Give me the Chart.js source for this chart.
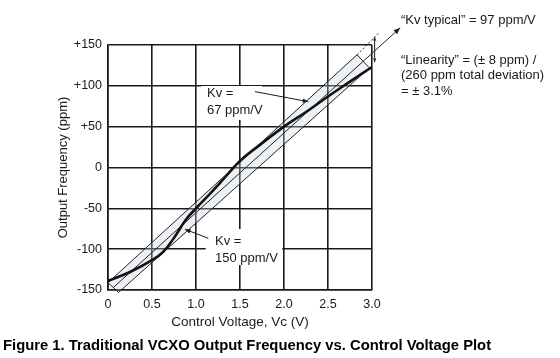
<!DOCTYPE html>
<html><head><meta charset="utf-8">
<script src="https://cdn.jsdelivr.net/npm/chart.js@4.4.1/dist/chart.umd.min.js"></script>
<style>html,body{margin:0;padding:0;background:#fff}#wrap{width:560px;height:358px}</style>
</head><body><div id="wrap"><canvas id="c" width="560" height="358"></canvas></div>
<script>
// ---- data ----
const controlVoltage = [0, 0.25, 0.5, 0.63, 0.77, 0.88, 1.0, 1.125, 1.28, 1.5, 1.73, 2.0, 2.25, 2.5, 2.72, 3.0];
const outputFreq     = [-139, -128, -113.5, -103, -83, -64.5, -50, -36, -18, 8, 28, 50, 68, 87, 103, 123];
const bandVoltage = [0, 2.83, 2.97, 0.12, 0];
const bandFreq    = [-141, 138, 122, -153, -141];
const typicalVoltage = [0.06, 3.32];
const typicalFreq    = [-147, 171];
const extVoltage = [2.83, 3.07];
const extFreq    = [138, 164];
const xTickValues = [0, 0.5, 1, 1.5, 2, 2.5, 3];
const xTickLabels = ['0', '0.5', '1.0', '1.5', '2.0', '2.5', '3.0'];
const yTickValues = [-150, -100, -50, 0, 50, 100, 150];
const yTickLabels = ['-150', '-100', '-50', '0', '+50', '+100', '+150'];

const FONT = "'Liberation Sans', Arial, sans-serif";
const INK = '#1a1a1a';

const notes = [
  {lines: ['Kv =', '67 ppm/V'], x: 1.125, ys: [90.8, 70.4], box: [1.057, 1.75, 99.8, 58.2],
   from: [1.67, 92.9], to: [2.276, 80.6]},
  {lines: ['Kv =', '150 ppm/V'], x: 1.216, ys: [-90.9, -111.2], box: [1.11, 1.98, -75.3, -119.4],
   from: [1.14, -86.7], to: [0.875, -75.7]}
];
const dimension = {x: 3.03, y1: 129, y2: 160};
const sideText = [
  {text: '\u201CKv typical\u201D = 97 ppm/V', x: 401, y: 20},
  {text: '\u201CLinearity\u201D = (\u00B1 8 ppm) /', x: 401, y: 60},
  {text: '(260 ppm total deviation)', x: 401, y: 75.5},
  {text: '= \u00B1 3.1%', x: 401, y: 91}
];
const figureTitle = {text: 'Figure 1. Traditional VCXO Output Frequency vs. Control Voltage Plot', x: 3, y: 345.5};

function zip(xs, ys) { return xs.map((v, i) => ({x: v, y: ys[i]})); }

function arrowHead(ctx, x1, y1, x2, y2, size) {
  const a = Math.atan2(y2 - y1, x2 - x1);
  ctx.beginPath();
  ctx.moveTo(x2, y2);
  ctx.lineTo(x2 - size * Math.cos(a - 0.38), y2 - size * Math.sin(a - 0.38));
  ctx.lineTo(x2 - size * Math.cos(a + 0.38), y2 - size * Math.sin(a + 0.38));
  ctx.closePath();
  ctx.fill();
}

const annot = {
  id: 'annot',
  beforeDatasetsDraw(chart) {
    const {ctx, scales: {x, y}} = chart;
    ctx.save();
    ctx.fillStyle = '#fff';
    notes.forEach(n => {
      const l = x.getPixelForValue(n.box[0]), r = x.getPixelForValue(n.box[1]);
      const t = y.getPixelForValue(n.box[2]), b = y.getPixelForValue(n.box[3]);
      ctx.fillRect(l, t, r - l, b - t);
    });
    ctx.restore();
  },
  afterDatasetsDraw(chart) {
    const {ctx, scales: {x, y}} = chart;
    ctx.save();
    ctx.fillStyle = INK; ctx.strokeStyle = INK;
    ctx.font = '13px ' + FONT;
    ctx.textBaseline = 'middle'; ctx.textAlign = 'left';
    notes.forEach(n => {
      n.lines.forEach((s, i) => ctx.fillText(s, x.getPixelForValue(n.x), y.getPixelForValue(n.ys[i])));
      const x1 = x.getPixelForValue(n.from[0]), y1 = y.getPixelForValue(n.from[1]);
      const x2 = x.getPixelForValue(n.to[0]), y2 = y.getPixelForValue(n.to[1]);
      ctx.lineWidth = 1;
      ctx.beginPath(); ctx.moveTo(x1, y1); ctx.lineTo(x2, y2); ctx.stroke();
      arrowHead(ctx, x1, y1, x2, y2, 6);
    });
    const pts = chart.getDatasetMeta(2).data;
    if (pts.length > 1) {
      const p1 = pts[pts.length - 2], p2 = pts[pts.length - 1];
      arrowHead(ctx, p1.x, p1.y, p2.x, p2.y, 7);
    }
    const dx = x.getPixelForValue(dimension.x);
    const dy1 = y.getPixelForValue(dimension.y1), dy2 = y.getPixelForValue(dimension.y2);
    ctx.lineWidth = 1;
    ctx.beginPath(); ctx.moveTo(dx, dy1); ctx.lineTo(dx, dy2); ctx.stroke();
    arrowHead(ctx, dx, dy2 + 10, dx, dy2, 4);
    arrowHead(ctx, dx, dy1 - 10, dx, dy1, 4);
    sideText.forEach(s => ctx.fillText(s.text, s.x, s.y));
    ctx.fillStyle = '#000';
    ctx.font = 'bold 14.8px ' + FONT;
    ctx.fillText(figureTitle.text, figureTitle.x, figureTitle.y);
    ctx.restore();
  }
};

new Chart(document.getElementById('c'), {
  type: 'line',
  data: {
    datasets: [
      {label: 'Output frequency', data: zip(controlVoltage, outputFreq), borderColor: '#111', borderWidth: 2.6,
       pointRadius: 0, tension: 0.4, fill: false, order: 0},
      {label: 'Linearity band', data: zip(bandVoltage, bandFreq), borderColor: '#222', borderWidth: 1,
       backgroundColor: 'rgba(200,207,222,0.32)', fill: 'shape', pointRadius: 0, tension: 0, clip: false, order: 2},
      {label: 'Kv typical', data: zip(typicalVoltage, typicalFreq), borderColor: '#222', borderWidth: 1,
       pointRadius: 0, fill: false, clip: false, order: 1},
      {label: 'Extension', data: zip(extVoltage, extFreq), borderColor: '#222', borderWidth: 1, borderDash: [2, 2],
       pointRadius: 0, fill: false, clip: false, order: 1}
    ]
  },
  options: {
    responsive: false,
    animation: false,
    devicePixelRatio: 1,
    layout: {padding: {top: 45, right: 188, bottom: 0, left: 0}},
    plugins: {legend: {display: false}, tooltip: {enabled: false}, title: {display: false}},
    scales: {
      x: {
        type: 'linear', min: 0, max: 3,
        afterBuildTicks: s => { s.ticks = xTickValues.map(v => ({value: v})); },
        afterFit: s => { s.height = 68; },
        ticks: {callback: (v, i) => xTickLabels[i], color: INK, font: {family: FONT, size: 12.5}, padding: 7, maxRotation: 0},
        grid: {color: INK, lineWidth: 1.6, drawTicks: false},
        border: {color: INK, width: 1.6},
        title: {display: true, text: 'Control Voltage, Vc (V)', color: INK, font: {family: FONT, size: 13.5}, padding: {top: 0, bottom: 27.7}}
      },
      y: {
        type: 'linear', min: -150, max: 150,
        afterBuildTicks: s => { s.ticks = yTickValues.map(v => ({value: v})); },
        afterFit: s => { s.width = 108; },
        ticks: {callback: (v, i) => yTickLabels[i], color: INK, font: {family: FONT, size: 12.5}, padding: 6},
        grid: {color: INK, lineWidth: 1.6, drawTicks: false},
        border: {color: INK, width: 1.6},
        title: {display: true, text: 'Output Frequency (ppm)', color: INK, font: {family: FONT, size: 13}, padding: {top: 55.2, bottom: 0}}
      }
    }
  },
  plugins: [annot]
});
</script>
</body></html>
